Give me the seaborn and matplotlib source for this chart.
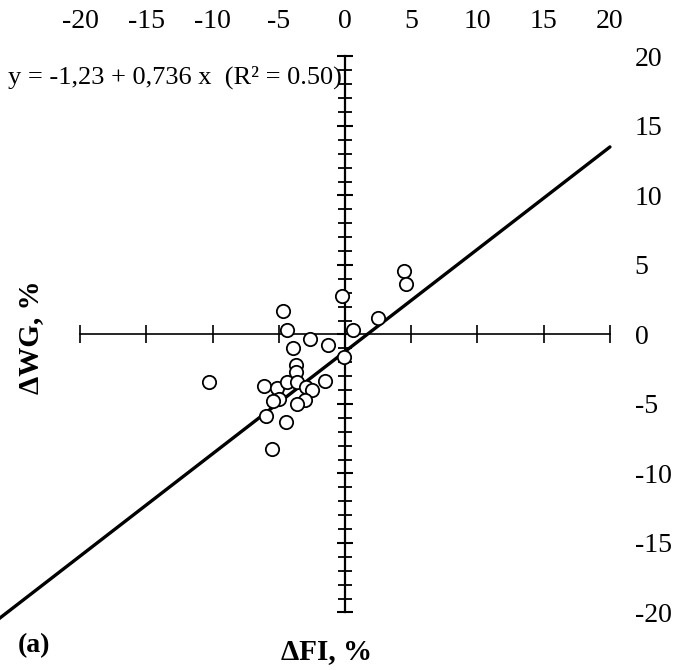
import numpy as np
import matplotlib.pyplot as plt
import seaborn as sns

# change in feed intake (x) vs change in weight gain (y), %
fi_change = [4.45, 4.60, -0.20, -4.66, 2.47, -4.35, 0.63, -2.66, -3.96, -1.26,
             -0.10, -3.70, -3.67, -10.30, -6.15, -5.13, -4.35, -3.60, -2.94, -2.47,
             -1.51, -4.98, -5.41, -3.02, -3.60, -5.99, -4.48, -5.48]
wg_change = [4.59, 3.62, 2.78, 1.72, 1.17, 0.32, 0.32, -0.35, -0.95, -0.76,
             -1.64, -2.19, -2.72, -3.44, -3.69, -3.83, -3.40, -3.40, -3.76, -4.00,
             -3.33, -4.64, -4.81, -4.71, -5.00, -5.84, -6.27, -8.24]

# fitted line as printed on the chart
intercept = -1.23
slope = 0.736
r2 = 0.50
fit_x = np.array([-28, 20])

axis_ticks = list(range(-20, 21, 5))
minor_ticks = list(range(-20, 21, 1))

sns.set_style("white")
plt.rcParams['font.family'] = ['Liberation Serif', 'DejaVu Serif']
plt.rcParams['axes.unicode_minus'] = False
plt.rcParams['text.color'] = 'black'

fig = plt.figure(figsize=(6.77, 6.70), dpi=100)
ax = fig.add_axes([0, 0, 1, 1])
ax.set_xlim(-26.04, 25.06)
ax.set_ylim(-24.14, 24.06)

sns.lineplot(x=fit_x, y=intercept + slope * fit_x, color='black',
             linewidth=2.4, ax=ax, zorder=2)
sns.scatterplot(x=fi_change, y=wg_change, s=92, color='white',
                edgecolor='black', linewidth=1.3, ax=ax, zorder=3)

# axes crossing at the origin
for side in ['top', 'right']:
    ax.spines[side].set_visible(False)
for side in ['left', 'bottom']:
    ax.spines[side].set_position(('data', 0))
    ax.spines[side].set_bounds(-20, 20)
    ax.spines[side].set_color('black')
ax.spines['left'].set_linewidth(1.6)
ax.spines['bottom'].set_linewidth(1.2)

ax.set_xticks(axis_ticks)
ax.set_yticks(axis_ticks)
ax.set_yticks(minor_ticks, minor=True)
ax.tick_params(axis='x', direction='inout', length=13, width=1.2,
               color='black', bottom=True, labelbottom=False)
ax.tick_params(axis='y', which='major', direction='inout', length=12,
               width=1.5, color='black', left=True, labelleft=False)
ax.tick_params(axis='y', which='minor', direction='inout', length=9.5,
               width=1.3, color='black', left=True)

# tick labels at the top and right
top = ax.secondary_xaxis(0.947)
top.set_xticks(axis_ticks)
top.tick_params(length=0, pad=1, labelsize=20, labelcolor='black')
right = ax.secondary_yaxis(0.925)
right.set_yticks(axis_ticks)
right.tick_params(length=0, pad=6, labelsize=20, labelcolor='black')
for sec in [top, right]:
    for sp in sec.spines.values():
        sp.set_visible(False)

eq = f"y = {intercept:.2f} + {slope:.3f} x  (R² = {r2:.2f})"
eq = eq.replace('-1.23', '-1,23').replace('0.736', '0,736')
ax.text(0.012, 0.885, eq, transform=ax.transAxes, fontsize=19,
        ha='left', va='center', color='black')

fig.text(0.045, 0.497, "ΔWG, %", rotation=90, fontsize=21, fontweight='bold',
         ha='center', va='center', color='black')
fig.text(0.482, 0.027, "ΔFI, %", fontsize=21, fontweight='bold',
         ha='center', va='center', color='black')
fig.text(0.05, 0.037, "(a)", fontsize=20, fontweight='bold',
         ha='center', va='center', color='black')

fig.savefig('out.png', dpi=100)
